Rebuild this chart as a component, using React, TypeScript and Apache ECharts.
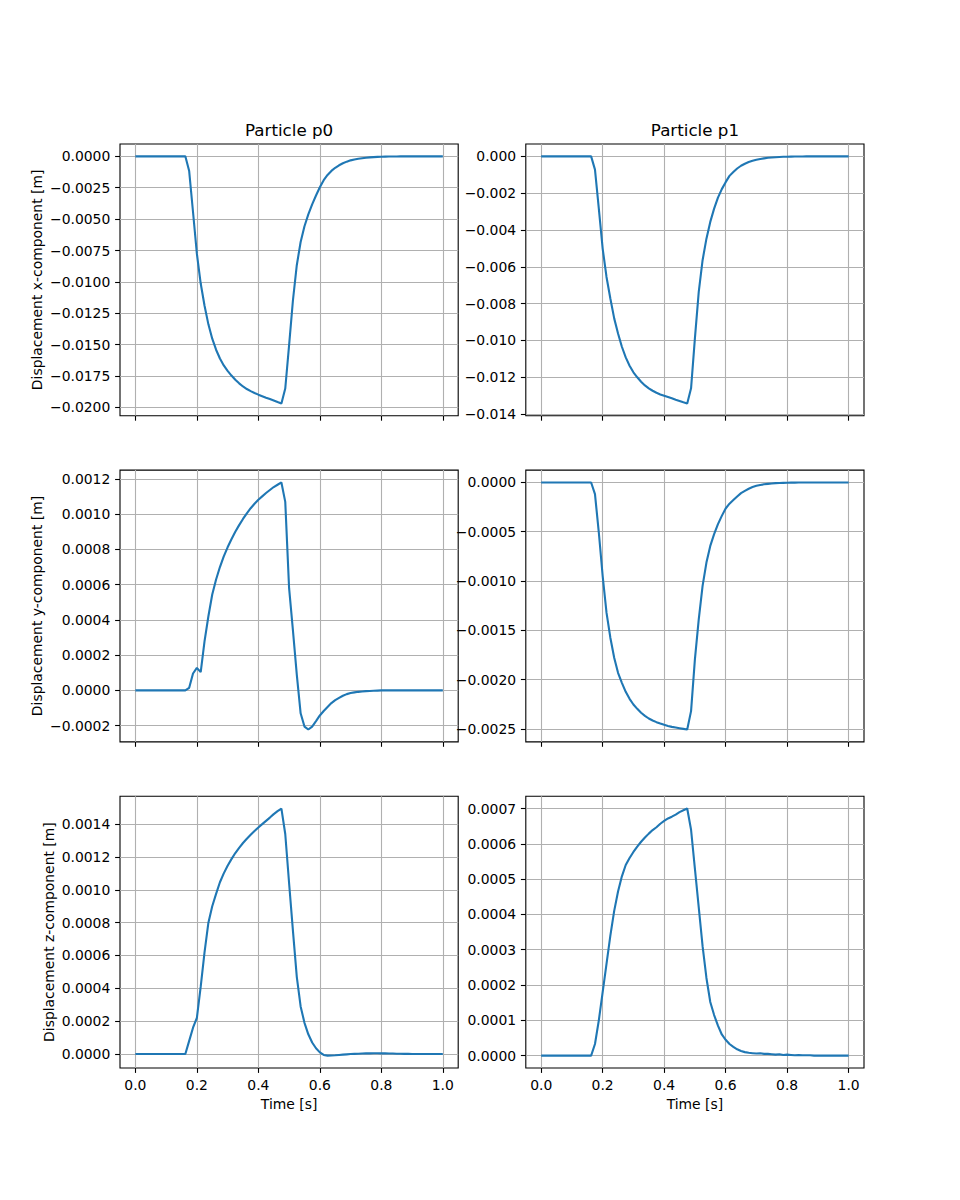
import React, { useEffect, useRef } from 'react';
import * as echarts from 'echarts';

// Time samples [s]
const time = [
  0, 0.0125, 0.025, 0.0375, 0.05, 0.0625, 0.075, 0.0875, 0.1, 0.1125,
  0.125, 0.1375, 0.15, 0.1625, 0.175, 0.1875, 0.2, 0.2125, 0.225, 0.2375,
  0.25, 0.2625, 0.275, 0.2875, 0.3, 0.3125, 0.325, 0.3375, 0.35, 0.3625,
  0.375, 0.3875, 0.4, 0.4125, 0.425, 0.4375, 0.45, 0.4625, 0.475, 0.4875,
  0.5, 0.5125, 0.525, 0.5375, 0.55, 0.5625, 0.575, 0.5875, 0.6, 0.6125,
  0.625, 0.6375, 0.65, 0.6625, 0.675, 0.6875, 0.7, 0.7125, 0.725, 0.7375,
  0.75, 0.7625, 0.775, 0.7875, 0.8, 0.8125, 0.825, 0.8375, 0.85, 0.8625,
  0.875, 0.8875, 0.9, 0.9125, 0.925, 0.9375, 0.95, 0.9625, 0.975, 0.9875,
  1.0,
];

const p0x = [
  0, 0, 0, 0, 0, 0, 0, 0, 0, 0,
  0, 0, 0, 0, -0.00117, -0.00443, -0.00775, -0.01013, -0.0119, -0.01338,
  -0.01452, -0.0154, -0.0161, -0.01665, -0.01708, -0.01746, -0.01779, -0.01808, -0.01833, -0.01853,
  -0.0187, -0.01885, -0.01898, -0.0191, -0.01922, -0.01933, -0.01945, -0.01957, -0.01968, -0.01849,
  -0.01504, -0.01146, -0.00867, -0.00682, -0.00557, -0.00462, -0.00382, -0.00312, -0.00246, -0.0019,
  -0.00148, -0.00116, -0.00091, -0.00071, -0.00055, -0.00042, -0.00032, -0.00025, -0.00019, -0.00015,
  -0.00011, -0.00008, -0.00006, -0.00004, -0.00003, -0.00002, -0.000015, -0.00001, -0.000007, -0.000005,
  -0.000003, -0.000002, -0.000001, 0, 0, 0, 0, 0, 0, 0,
  0,
];

const p1x = [
  0, 0, 0, 0, 0, 0, 0, 0, 0, 0,
  0, 0, 0, 0, -0.00072, -0.00284, -0.00501, -0.00655, -0.00772, -0.0088,
  -0.00962, -0.01034, -0.01092, -0.01137, -0.01173, -0.012, -0.01224, -0.01244, -0.0126, -0.01273,
  -0.01284, -0.01293, -0.013, -0.01307, -0.01314, -0.01322, -0.01329, -0.01336, -0.01342, -0.0126,
  -0.00989, -0.00736, -0.00564, -0.00447, -0.00356, -0.00284, -0.00224, -0.00178, -0.0014, -0.00106,
  -0.00085, -0.00066, -0.00051, -0.0004, -0.00031, -0.00024, -0.00018, -0.00014, -0.00011, -0.00008,
  -0.00006, -0.000045, -0.000035, -0.000025, -0.00002, -0.000015, -0.00001, -0.000007, -0.000005, -0.000003,
  -0.000002, -0.000001, 0, 0, 0, 0, 0, 0, 0, 0,
  0,
];

const p0y = [
  0, 0, 0, 0, 0, 0, 0, 0, 0, 0,
  0, 0, 0, 0, 0.000015, 0.000096, 0.000128, 0.000104, 0.00028, 0.000421,
  0.000544, 0.000629, 0.0007, 0.000761, 0.000812, 0.000858, 0.0009, 0.000938, 0.000973, 0.001005,
  0.001034, 0.001059, 0.001082, 0.001101, 0.00112, 0.001137, 0.001154, 0.001167, 0.00118, 0.00107,
  0.00058, 0.00034, 0.00009, -0.00013, -0.000205, -0.000222, -0.000205, -0.000174, -0.000142, -0.000117,
  -0.000094, -0.000072, -0.000055, -0.000042, -0.00003, -0.000021, -0.000015, -0.000011, -0.000008, -0.000006,
  -0.000004, -0.000003, -0.000002, -0.000001, 0, 0, 0, 0, 0, 0,
  0, 0, 0, 0, 0, 0, 0, 0, 0, 0,
  0,
];

const p1y = [
  0, 0, 0, 0, 0, 0, 0, 0, 0, 0,
  0, 0, 0, 0, -0.000119, -0.000508, -0.000949, -0.001321, -0.001575, -0.001778,
  -0.001931, -0.002033, -0.002124, -0.002195, -0.002253, -0.002297, -0.002337, -0.002368, -0.002395, -0.002415,
  -0.002432, -0.002446, -0.002459, -0.00247, -0.00248, -0.002486, -0.002493, -0.0025, -0.002507, -0.00232,
  -0.001795, -0.001389, -0.00105, -0.000813, -0.000644, -0.000525, -0.000423, -0.000339, -0.000264, -0.000215,
  -0.000178, -0.000142, -0.000108, -0.000085, -0.000064, -0.000047, -0.000034, -0.000025, -0.000019, -0.000014,
  -0.00001, -0.000007, -0.000005, -0.000004, -0.000003, -0.000002, -0.000002, -0.000001, 0, 0,
  0, 0, 0, 0, 0, 0, 0, 0, 0, 0,
  0,
];

const p0z = [
  0, 0, 0, 0, 0, 0, 0, 0, 0, 0,
  0, 0, 0, 0, 0.00008, 0.00016, 0.00022, 0.00041, 0.00062, 0.0008,
  0.0009, 0.000975, 0.001046, 0.0011, 0.001147, 0.001187, 0.001224, 0.001256, 0.001285, 0.001311,
  0.001335, 0.001358, 0.00138, 0.0014, 0.00142, 0.00144, 0.001461, 0.001479, 0.001495, 0.00134,
  0.00104, 0.00075, 0.00047, 0.00029, 0.00019, 0.00012, 0.00007, 0.000035, 0.00001, -0.000006,
  -0.00001, -0.000009, -0.000008, -0.000006, -0.000004, -0.000002, 0, 0.000001, 0.000002, 0.000003,
  0.000004, 0.000004, 0.000005, 0.000005, 0.000004, 0.000004, 0.000003, 0.000003, 0.000002, 0.000002,
  0.000001, 0.000001, 0, 0, 0, 0, 0, 0, 0, 0,
  0,
];

const p1z = [
  0, 0, 0, 0, 0, 0, 0, 0, 0, 0,
  0, 0, 0, 0, 0.000033, 0.0001, 0.00018, 0.00026, 0.00034, 0.00041,
  0.000465, 0.000508, 0.00054, 0.00056, 0.000577, 0.000592, 0.000606, 0.000618, 0.000629, 0.000639,
  0.000647, 0.000657, 0.000665, 0.000672, 0.000677, 0.000683, 0.00069, 0.000695, 0.0007, 0.00064,
  0.00053, 0.00042, 0.00031, 0.00022, 0.000152, 0.000115, 0.000085, 0.00006, 0.000045, 0.000033,
  0.000025, 0.000018, 0.000013, 0.00001, 0.000008, 0.000007, 0.000006, 0.000007, 0.000005, 0.000005,
  0.000004, 0.000003, 0.000004, 0.000002, 0.000003, 0.000002, 0.000001, 0.000002, 0.000001, 0.000001,
  0.000001, 0, 0, 0, 0, 0, 0, 0, 0, 0,
  0,
];

// Tick values
const timeTicks = [0, 0.2, 0.4, 0.6, 0.8, 1.0];
const p0xTicks = [0, -0.0025, -0.005, -0.0075, -0.01, -0.0125, -0.015, -0.0175, -0.02];
const p1xTicks = [0, -0.002, -0.004, -0.006, -0.008, -0.01, -0.012, -0.014];
const p0yTicks = [-0.0002, 0, 0.0002, 0.0004, 0.0006, 0.0008, 0.001, 0.0012];
const p1yTicks = [0, -0.0005, -0.001, -0.0015, -0.002, -0.0025];
const p0zTicks = [0, 0.0002, 0.0004, 0.0006, 0.0008, 0.001, 0.0012, 0.0014];
const p1zTicks = [0, 0.0001, 0.0002, 0.0003, 0.0004, 0.0005, 0.0006, 0.0007];

const columnTitles = ['Particle p0', 'Particle p1'];
const rowNames = [
  'Displacement x-component [m]',
  'Displacement y-component [m]',
  'Displacement z-component [m]',
];

const panels = [
  { values: p0x, ticks: p0xTicks, dec: 4, row: 0, col: 0 },
  { values: p1x, ticks: p1xTicks, dec: 3, row: 0, col: 1 },
  { values: p0y, ticks: p0yTicks, dec: 4, row: 1, col: 0 },
  { values: p1y, ticks: p1yTicks, dec: 4, row: 1, col: 1 },
  { values: p0z, ticks: p0zTicks, dec: 4, row: 2, col: 0 },
  { values: p1z, ticks: p1zTicks, dec: 4, row: 2, col: 1 },
];

// layout (px)
const colLeft = [120, 525.8];
const colWidth = 338.2;
const rowTop = [144, 470.1, 796.2];
const rowHeight = 271.8;
const nameGaps = [76, 76, 64];

const FONT = 'DejaVu Sans';
const fmt = (dec: number) => (v: number) =>
  (v < -1e-12 ? '\u2212' : '') + Math.abs(v).toFixed(dec);

export default function App() {
  const ref = useRef<HTMLDivElement>(null);
  useEffect(() => {
    if (!ref.current) return;
    const chart = echarts.init(ref.current, undefined, { renderer: 'svg' });

    const tickStyle = { color: '#000', width: 1.1 };
    const labelBase = { color: '#000', fontFamily: FONT, fontSize: 13.9, margin: 9.7 };
    const splitLine = { show: true, lineStyle: { color: '#b0b0b0', width: 1.1 } };

    const grid = panels.map((p) => ({
      left: colLeft[p.col],
      top: rowTop[p.row],
      width: colWidth,
      height: rowHeight,
      show: true,
      borderColor: '#000',
      borderWidth: 1.1,
      backgroundColor: 'transparent',
      containLabel: false,
      outerBoundsMode: 'none',
    }));

    const xAxis = panels.map((p, i) => ({
      type: 'value',
      gridIndex: i,
      min: -0.05,
      max: 1.05,
      axisLine: { show: false, onZero: false },
      axisTick: { show: true, inside: false, length: 4.9, lineStyle: tickStyle, customValues: timeTicks },
      axisLabel: { ...labelBase, show: p.row === 2, customValues: timeTicks, formatter: fmt(1) },
      splitLine,
      name: p.row === 2 ? 'Time [s]' : '',
      nameLocation: 'middle',
      nameGap: 29,
      nameTextStyle: { color: '#000', fontFamily: FONT, fontSize: 13.9 },
    }));

    const yAxis = panels.map((p, i) => {
      const lo = Math.min(...p.values);
      const hi = Math.max(...p.values);
      const pad = 0.05 * (hi - lo);
      return {
        type: 'value',
        gridIndex: i,
        min: lo - pad,
        max: hi + pad,
        axisLine: { show: false, onZero: false },
        axisTick: { show: true, inside: false, length: 4.9, lineStyle: tickStyle, customValues: p.ticks },
        axisLabel: { ...labelBase, customValues: p.ticks, formatter: fmt(p.dec) },
        splitLine,
        name: p.col === 0 ? rowNames[p.row] : '',
        nameLocation: 'middle',
        nameRotate: 90,
        nameGap: nameGaps[p.row],
        nameTextStyle: { color: '#000', fontFamily: FONT, fontSize: 13.9 },
      };
    });

    const series = panels.map((p, i) => ({
      type: 'line',
      xAxisIndex: i,
      yAxisIndex: i,
      data: time.map((t, k) => [t, p.values[k]]),
      showSymbol: false,
      symbol: 'none',
      lineStyle: { color: '#1f77b4', width: 2.1 },
      itemStyle: { color: '#1f77b4' },
      clip: true,
      z: 3,
    }));

    const graphic = columnTitles.map((text, c) => ({
      type: 'text',
      x: colLeft[c] + colWidth / 2,
      y: 130,
      style: {
        text,
        fill: '#000',
        fontFamily: FONT,
        fontSize: 16.7,
        align: 'center',
        verticalAlign: 'middle',
      },
    }));

    chart.setOption({
      animation: false,
      backgroundColor: '#fff',
      textStyle: { fontFamily: FONT },
      grid,
      xAxis,
      yAxis,
      series,
      graphic,
    } as any);

    return () => chart.dispose();
  }, []);

  return (
    <div
      ref={ref}
      style={{ position: 'absolute', left: 0, top: 0, width: 960, height: 1200 }}
    />
  );
}
